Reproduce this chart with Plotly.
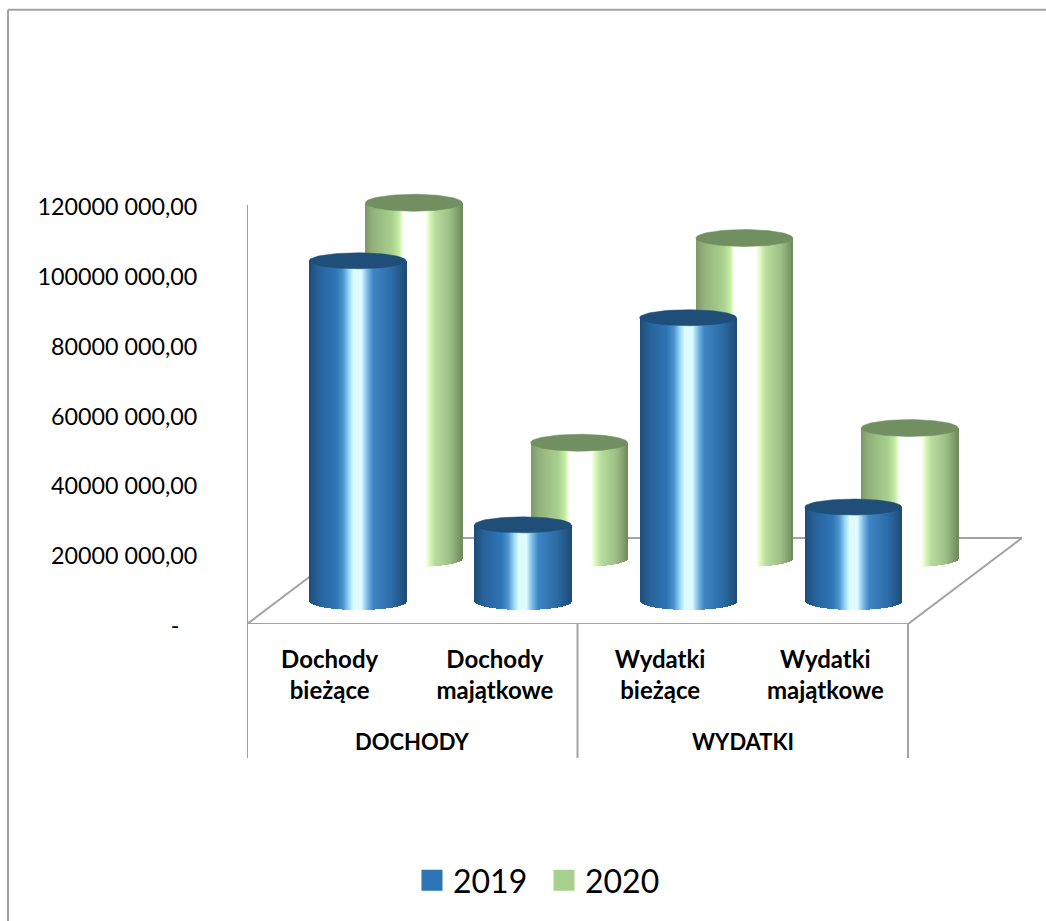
import numpy as np
import plotly.graph_objects as go

# ---- data ----
categories = ["Dochody<br>bieżące", "Dochody<br>majątkowe", "Wydatki<br>bieżące", "Wydatki<br>majątkowe"]
groups = ["DOCHODY", "WYDATKI"]
series_names = ["2019", "2020"]
values_2019 = [97400000, 21800000, 81100000, 26900000]
values_2020 = [101700000, 33000000, 91600000, 37200000]
y_tick_values = [0, 20000000, 40000000, 60000000, 80000000, 100000000, 120000000]
y_tick_labels = ["-\u00a0\u00a0\u00a0", "20000 000,00", "40000 000,00", "60000 000,00",
                 "80000 000,00", "100000 000,00", "120000 000,00"]

# ---- layout constants (pixels of the page) ----
W, H = 1046, 921
L, R, B = 247, 24, 297
PX_PER_VALUE = 419 / 120e6
YMAX = 140e6
T = H - B - YMAX * PX_PER_VALUE
CAT_PX = 165.25
XMAX = (W - R - L) / CAT_PX
PLOT_H = H - B - T
PLOT_W = W - L - R


def xp(px):
    return (px - L) / PLOT_W


def yp(py):
    return (H - B - py) / PLOT_H


def xd(px):
    return (px - L) / CAT_PX


def v(py_delta):
    return py_delta / PX_PER_VALUE


BLUE_STOPS = [(0, "#1e4c76"), (0.1, "#27629a"), (0.28, "#2e75b6"), (0.35, "#4b93cc"),
              (0.41, "#93d6f6"), (0.46, "#dcfcff"), (0.54, "#dcfcff"), (0.6, "#7cbbe4"),
              (0.66, "#3f86c4"), (0.85, "#2b6ba6"), (1, "#1e4c76")]
GREEN_STOPS = [(0, "#7b9869"), (0.08, "#93b07c"), (0.28, "#a9d18e"), (0.35, "#c4eba6"),
               (0.385, "#f0ffd8"), (0.4, "#ffffff"), (0.62, "#ffffff"), (0.65, "#e6fdca"),
               (0.72, "#b9de9c"), (0.88, "#9dbd85"), (1, "#6f8b5c")]


def hex2rgb(h):
    return np.array([int(h[i:i + 2], 16) for i in (1, 3, 5)], float)


def gradient(stops, t):
    pos = [s[0] for s in stops]
    rgb = np.array([hex2rgb(s[1]) for s in stops])
    c = [np.interp(t, pos, rgb[:, k]) for k in range(3)]
    return "rgb(%d,%d,%d)" % tuple(int(round(x)) for x in c)


def cylinders(values, offset_px, base_px, stops, cap_color, cap_ry, name):
    width = 97 / CAT_PX
    n = 97
    base_val = v(base_px)
    ry = v(9)
    step = width / n
    xs, ws, bases, hs, cols = [], [], [], [], []
    cx_all, cy_all = [], []
    for i, val in enumerate(values):
        c = i + offset_px
        left = c - width / 2
        for k in range(n):
            # each slice overlaps the next, so nothing shows through between them
            x0 = left + k * step
            x1 = min(x0 + 2.5 * step, left + width)
            u = (x0 + step / 2 - c) / (width / 2)
            drop = ry * np.sqrt(max(0, 1 - u * u))
            xs.append((x0 + x1) / 2)
            ws.append(x1 - x0)
            bases.append(base_val - drop)
            hs.append(val + drop)
            cols.append(gradient(stops, (u + 1) / 2))
        th = np.linspace(0, 2 * np.pi, 90)
        cx_all += list(c + width / 2 * np.cos(th)) + [None]
        cy_all += list(base_val + val + v(cap_ry) * np.sin(th)) + [None]
    bar = go.Bar(x=xs, y=hs, base=bases, width=ws, name=name, showlegend=False,
                 marker=dict(color=cols, opacity=1, line=dict(width=0)),
                 cliponaxis=False, hoverinfo="skip")
    cap = go.Scatter(x=cx_all, y=cy_all, mode="lines", fill="toself", fillcolor=cap_color,
                     line=dict(color=cap_color, width=0.5), showlegend=False,
                     cliponaxis=False, hoverinfo="skip")
    return bar, cap


FONT = "Lato, Carlito, Calibri, sans-serif"
GREY = "#a3a3a3"

g_bar, g_cap = cylinders(values_2020, 1.01, 66, GREEN_STOPS, "#728f61", 8.5, series_names[1])
b_bar, b_cap = cylinders(values_2019, 0.669, 23, BLUE_STOPS, "#1f4e79", 8, series_names[0])

fig = go.Figure([g_bar, b_bar, g_cap, b_cap])
fig.add_trace(go.Scatter(x=[None], y=[None], mode="markers", name=series_names[0],
                         marker=dict(symbol="square", size=16, color="#2e75b6",
                                     line=dict(color="#2e75b6", width=5))))
fig.add_trace(go.Scatter(x=[None], y=[None], mode="markers", name=series_names[1],
                         marker=dict(symbol="square", size=16, color="#a9d18e",
                                     line=dict(color="#a9d18e", width=5))))


def line(x0, y0, x1, y1, **kw):
    return dict(type="line", x0=x0, y0=y0, x1=x1, y1=y1, layer="below",
                line=dict(color=GREY, width=2), **kw)


shapes = [
    # y-axis wall edge and floor
    line(0, 0, 0, 120e6, xref="x", yref="y"),
    line(0, 0, 4, 0, xref="x", yref="y"),
    line(0, 0, xd(361), v(86), xref="x", yref="y"),
    line(xd(361), v(86), xd(1022), v(86), xref="x", yref="y"),
    line(4, 0, xd(1022), v(86), xref="x", yref="y"),
    # category dividers
    line(0, yp(624), 0, yp(758), xref="x", yref="paper"),
    line(2, yp(624), 2, yp(758), xref="x", yref="paper"),
    line(4, yp(624), 4, yp(758), xref="x", yref="paper"),
    # chart border
    line(xp(8), yp(10), xp(8), yp(921), xref="paper", yref="paper"),
    line(xp(8), yp(10), xp(1046), yp(10), xref="paper", yref="paper"),
]

annotations = [
    dict(x=1 + 2 * i, y=yp(741), xref="x", yref="paper", text="<b>%s</b>" % g, showarrow=False,
         font=dict(family=FONT, size=22, color="#000000"), xanchor="center", yanchor="middle")
    for i, g in enumerate(groups)
]

fig.update_layout(
    width=W, height=H, autosize=False,
    margin=dict(l=L, r=R, t=T, b=B, pad=0),
    paper_bgcolor="white", plot_bgcolor="rgba(0,0,0,0)",
    barmode="overlay", bargap=0,
    xaxis=dict(range=[0, XMAX], tickmode="array", tickvals=[0.5, 1.5, 2.5, 3.5], ticktext=categories,
               showgrid=False, zeroline=False, showline=False, ticks="outside", ticklen=14,
               tickcolor="rgba(0,0,0,0)", tickangle=0,
               tickfont=dict(family=FONT, size=24, color="#000000", weight="bold")),
    yaxis=dict(range=[0, YMAX], tickmode="array", tickvals=y_tick_values, ticktext=y_tick_labels,
               showgrid=False, zeroline=False, showline=False, ticks="outside", ticklen=44,
               tickcolor="rgba(0,0,0,0)", ticklabelshift=2,
               tickfont=dict(family=FONT, size=23.3, color="#000000")),
    shapes=shapes, annotations=annotations,
    showlegend=True,
    legend=dict(orientation="h", xref="container", yref="container",
                x=411 / W, y=1 - 853 / H, xanchor="left", yanchor="top",
                font=dict(family=FONT, size=32, color="#000000"),
                bgcolor="rgba(0,0,0,0)", itemwidth=32, entrywidth=85, entrywidthmode="pixels"),
)

fig.write_html("out.html", config={"displayModeBar": False},
               post_script="document.body.style.margin='0';document.documentElement.style.overflow='hidden';")
